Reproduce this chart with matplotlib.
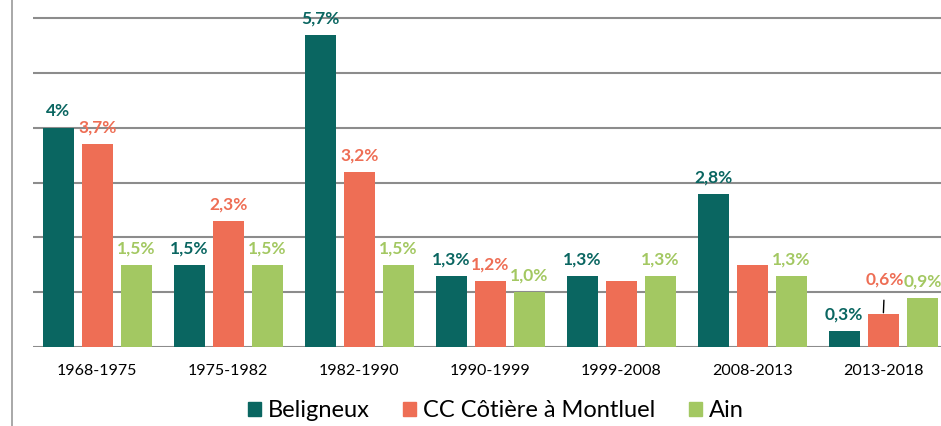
"""Evolution annuelle moyenne de la population - grouped bars."""
import matplotlib
matplotlib.use("Agg")
import matplotlib.pyplot as plt
import numpy as np
from matplotlib.lines import Line2D

plt.rcParams.update({
    "font.family": ["Lato", "DejaVu Sans"],
})

periods = ["1968-1975", "1975-1982", "1982-1990", "1990-1999",
           "1999-2008", "2008-2013", "2013-2018"]
series = ["Beligneux", "CC Côtière à Montluel", "Ain"]
beligneux = [4.0, 1.5, 5.7, 1.3, 1.3, 2.8, 0.3]
cc_cotiere = [3.7, 2.3, 3.2, 1.2, 1.2, 1.5, 0.6]
ain = [1.5, 1.5, 1.5, 1.0, 1.3, 1.3, 0.9]
# labels as printed on the chart (None = no label shown)
lab_beligneux = ["4%", "1,5%", "5,7%", "1,3%", "1,3%", "2,8%", "0,3%"]
lab_cc = ["3,7%", "2,3%", "3,2%", "1,2%", None, None, "0,6%"]
lab_ain = ["1,5%", "1,5%", "1,5%", "1,0%", "1,3%", "1,3%", "0,9%"]

colors = ["#0A6661", "#EE6E55", "#A3C862"]

fig = plt.figure(figsize=(9.41, 4.26), dpi=100)
ax = fig.add_axes([33 / 941, 79 / 426, 1 - 33 / 941, 347 / 426])

x = np.arange(len(periods))
width = 0.237
step = 0.298
data = [beligneux, cc_cotiere, ain]
labels = [lab_beligneux, lab_cc, lab_ain]

for k, (vals, labs, col) in enumerate(zip(data, labels, colors)):
    xs = x + (k - 1) * step
    ax.bar(xs, vals, width=width, color=col, zorder=3, label=series[k])
    for xi, v, lab in zip(xs, vals, labs):
        if lab is None:
            continue
        if k == 1 and xi > 5.5:
            # label lifted with a small leader line
            ax.annotate(lab, xy=(xi, v), xytext=(1, 19),
                        textcoords="offset points", ha="center",
                        va="bottom", fontsize=12.5, fontweight="bold",
                        color=col,
                        arrowprops=dict(arrowstyle="-", color="black",
                                        lw=1, shrinkA=7, shrinkB=1))
        else:
            ax.annotate(lab, xy=(xi, v), xytext=(0, 6),
                        textcoords="offset points", ha="center",
                        va="bottom", fontsize=12.5, fontweight="bold",
                        color=col)

ax.set_xlim(-0.49, 6.44)
ax.set_ylim(0, 6.33)
ax.set_yticks(np.arange(0, 7, 1))
ax.set_yticklabels([])
ax.yaxis.grid(True, color="#8C8C8C", linewidth=1.5, zorder=0)
ax.set_axisbelow(True)
ax.tick_params(axis="both", length=0)
ax.set_xticks(x)
ax.set_xticklabels(periods, fontsize=11.5)
ax.tick_params(axis="x", pad=12)
for s in ax.spines.values():
    s.set_visible(False)

# left frame line of the original chart area
fig.add_artist(Line2D([12 / 941, 12 / 941], [0, 1], color="#9A9A9A",
                      linewidth=1.2, transform=fig.transFigure))

handles = [plt.Rectangle((0, 0), 1, 1, color=c) for c in colors]
fig.legend(handles, series, loc="center", bbox_to_anchor=(0.527, 0.036),
           ncol=3, frameon=False, fontsize=17, handlelength=0.55,
           handleheight=0.55, handletextpad=0.3, columnspacing=1.4)

fig.savefig("out.png", dpi=100)
